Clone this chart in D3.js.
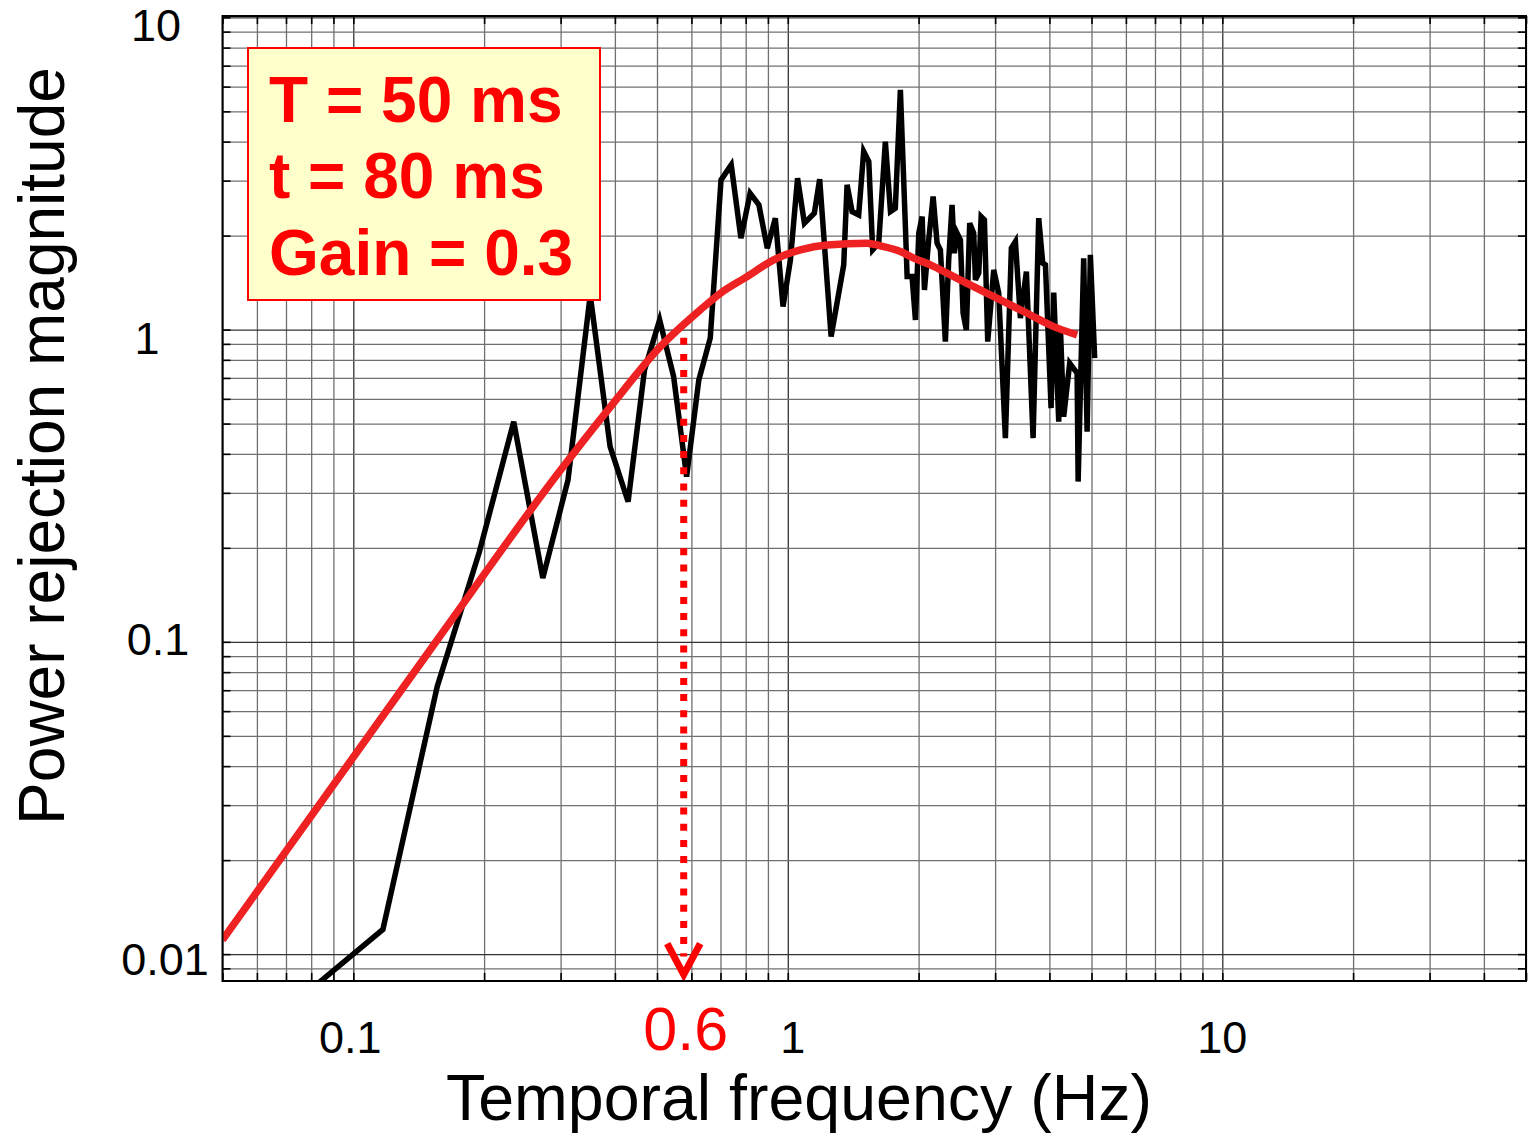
<!DOCTYPE html>
<html>
<head>
<meta charset="utf-8">
<script src="https://cdn.jsdelivr.net/npm/d3@7"></script>
<style>
	body { margin: 0; background: #fff; }
	svg { display: block; font-family: 'Liberation Sans', Arial, Helvetica, sans-serif; }
</style>
</head>
<body>
<script>
const svgWidth = 1528; //Width of SVG.
const svgHeight = 1136; //Height of SVG.

const plotLeft = 222.5; //Plot frame edges.
const plotRight = 1526;
const plotTop = 16;
const plotBottom = 981;

//Model fit (red) : frequency (Hz) and magnitude.
const fitFreq = [0.05, 0.156, 0.300, 0.391, 0.509, 0.629, 0.700, 0.806, 0.928, 1.069, 1.231,
	1.522, 1.634, 1.816, 1.949, 2.129, 2.367, 2.678, 3.085, 3.554, 4.093, 4.633];
const fitMag = [0.0111, 0.1014, 0.355, 0.567, 0.882, 1.157, 1.308, 1.478, 1.672, 1.800, 1.867,
	1.891, 1.854, 1.778, 1.693, 1.612, 1.497, 1.373, 1.245, 1.128, 1.022, 0.962];

//Measured rejection (black).
const measFreq = [0.078, 0.117, 0.156, 0.195, 0.234, 0.273, 0.312, 0.351, 0.390, 0.429,
	0.468, 0.507, 0.546, 0.585, 0.624, 0.663, 0.702, 0.741, 0.780, 0.819,
	0.858, 0.897, 0.936, 0.975, 1.014, 1.053, 1.092, 1.151, 1.184, 1.258,
	1.345, 1.369, 1.406, 1.456, 1.495, 1.536, 1.568, 1.619, 1.677, 1.723,
	1.768, 1.816, 1.865, 1.882, 1.932, 1.967, 2.002, 2.038, 2.063, 2.110,
	2.160, 2.206, 2.245, 2.305, 2.346, 2.388, 2.417, 2.453, 2.496, 2.532,
	2.576, 2.622, 2.678, 2.703, 2.751, 2.786, 2.835, 2.885, 2.978, 3.058,
	3.168, 3.270, 3.341, 3.430, 3.541, 3.669, 3.780, 3.861, 3.917, 4.036,
	4.093, 4.203, 4.241, 4.315, 4.393, 4.454, 4.633, 4.658, 4.797, 4.885,
	4.970, 5.085];
const measMag = [0.0075, 0.0120, 0.0719, 0.194, 0.507, 0.160, 0.330, 1.29, 0.422, 0.281,
	0.743, 1.074, 0.707, 0.338, 0.690, 0.939, 3.016, 3.370, 1.963, 2.734,
	2.508, 1.823, 2.275, 1.185, 1.672, 3.055, 2.192, 2.36, 3.03, 0.950,
	1.612, 2.908, 2.388, 2.330, 3.717, 3.452, 1.800, 1.891, 4.00, 2.388,
	2.448, 5.86, 2.138, 1.478, 1.478, 1.074, 2.036, 2.301, 1.340, 1.938,
	2.667, 1.891, 1.800, 0.915, 1.672, 2.508, 1.757, 2.036, 1.938, 1.128,
	0.998, 2.192, 2.036, 1.443, 1.516, 2.301, 2.246, 0.915, 1.553, 1.308,
	0.449, 1.823, 1.914, 1.088, 1.534, 0.449, 2.275, 1.632, 1.612, 0.560,
	1.314, 0.507, 1.010, 0.526, 0.657, 0.780, 0.725, 0.326, 1.693, 0.471,
	1.735, 0.810];

const xLabelValues = [0.1, 1, 10];
const xLabelTexts = ['0.1', '1', '10'];
const yLabelValues = [0.01, 0.1, 1, 10];
const yLabelTexts = ['0.01', '0.1', '1', '10'];

const infoLines = ['T = 50 ms', 't = 80 ms', 'Gain = 0.3'];

const cutoffFreq = 0.576; //Where the dotted arrow drops.
const cutoffTop = 0.942;
const cutoffBottom = 0.0086;
const cutoffLabel = '0.6';

//Small nudges so the labels sit where the original has them.
const xLabelNudge = [-3, 5, 0];
const yLabelX = [165, 158, 147, 156];
const yLabelDy = [21, 13, 24, 24];

let xScale = d3.scaleLog() //Scale for the x-axis.
	.domain([0.05, 50])
	.range([plotLeft, plotRight]);

let yScale = d3.scaleLog() //Scale for the y-axis.
	.domain([0.0082, 10.1])
	.range([plotBottom, plotTop]);

const plotW = plotRight - plotLeft;
const plotH = plotBottom - plotTop;

let svgContainer = d3.select('body')
	.append('svg')
	.attr('width', svgWidth)
	.attr('height', svgHeight);

svgContainer.append('defs')
	.append('clipPath')
	.attr('id', 'plot-clip')
	.append('rect')
	.attr('x', plotLeft)
	.attr('y', plotTop)
	.attr('width', plotW)
	.attr('height', plotH);

const isMajor = (d) => Math.abs(Math.log10(d) - Math.round(Math.log10(d))) < 1e-6;

//Vertical grid lines.
let xGrid = svgContainer.append('g')
	.attr('transform', 'translate(0,' + plotBottom + ')')
	.call(d3.axisBottom(xScale).tickValues(xScale.ticks()).tickSize(-plotH).tickFormat(''));
xGrid.select('.domain').remove();
xGrid.selectAll('line')
	.attr('stroke', (d) => isMajor(d) ? '#333' : '#707070')
	.attr('stroke-width', 1.3);

//Horizontal grid lines.
let yGrid = svgContainer.append('g')
	.attr('transform', 'translate(' + plotLeft + ',0)')
	.call(d3.axisLeft(yScale).tickValues(yScale.ticks()).tickSize(-plotW).tickFormat(''));
yGrid.select('.domain').remove();
yGrid.selectAll('line')
	.attr('stroke', (d) => isMajor(d) ? '#333' : '#707070')
	.attr('stroke-width', 1.3);

//Inward tick marks on all four sides.
const tickAxes = [
	[d3.axisBottom(xScale).tickValues(xScale.ticks()), 'translate(0,' + plotBottom + ')'],
	[d3.axisTop(xScale).tickValues(xScale.ticks()), 'translate(0,' + plotTop + ')'],
	[d3.axisLeft(yScale).tickValues(yScale.ticks()), 'translate(' + plotLeft + ',0)'],
	[d3.axisRight(yScale).tickValues(yScale.ticks()), 'translate(' + plotRight + ',0)']
];
tickAxes.forEach(([axis, tr]) => {
	let g = svgContainer.append('g')
		.attr('transform', tr)
		.call(axis.tickSize(-8).tickFormat(''));
	g.select('.domain').remove();
	g.selectAll('line').attr('stroke', '#000').attr('stroke-width', 1.6);
});

//Measured curve.
const measLine = d3.line()
	.x((d, i) => xScale(measFreq[i]))
	.y((d, i) => yScale(measMag[i]));

svgContainer.append('path')
	.datum(measMag)
	.attr('clip-path', 'url(#plot-clip)')
	.attr('d', measLine)
	.attr('fill', 'none')
	.attr('stroke', '#000')
	.attr('stroke-width', 5.5);

//Model curve.
const fitLine = d3.line()
	.x((d, i) => xScale(fitFreq[i]))
	.y((d, i) => yScale(fitMag[i]))
	.curve(d3.curveMonotoneX);

svgContainer.append('path')
	.datum(fitMag)
	.attr('clip-path', 'url(#plot-clip)')
	.attr('d', fitLine)
	.attr('fill', 'none')
	.attr('stroke', '#ee2222')
	.attr('stroke-width', 7.5)
	.attr('stroke-linecap', 'butt');

//Dotted drop line and arrow head.
const cx = xScale(cutoffFreq);
svgContainer.append('line')
	.attr('x1', cx)
	.attr('x2', cx)
	.attr('y1', yScale(cutoffTop))
	.attr('y2', yScale(cutoffBottom) - 18)
	.attr('stroke', '#ff0000')
	.attr('stroke-width', 7)
	.attr('stroke-dasharray', '7,9.2');

const tipY = yScale(cutoffBottom);
svgContainer.append('path')
	.attr('d', 'M' + (cx - 16.5) + ',' + (tipY - 31) + 'L' + cx + ',' + tipY + 'L' + (cx + 16.5) + ',' + (tipY - 31))
	.attr('fill', 'none')
	.attr('stroke', '#ff0000')
	.attr('stroke-width', 7);

//Plot frame.
svgContainer.append('rect')
	.attr('x', plotLeft)
	.attr('y', plotTop)
	.attr('width', plotW)
	.attr('height', plotH)
	.attr('fill', 'none')
	.attr('stroke', '#000')
	.attr('stroke-width', 2);

//Tick labels.
svgContainer.selectAll('.x-label')
	.data(xLabelValues)
	.enter()
	.append('text')
	.attr('class', 'x-label')
	.attr('x', (d, i) => xScale(d) + xLabelNudge[i])
	.attr('y', 1053)
	.attr('text-anchor', 'middle')
	.style('font-size', '45px')
	.text((d, i) => xLabelTexts[i]);

svgContainer.selectAll('.y-label')
	.data(yLabelValues)
	.enter()
	.append('text')
	.attr('class', 'y-label')
	.attr('x', (d, i) => yLabelX[i])
	.attr('y', (d, i) => yScale(d) + yLabelDy[i])
	.attr('text-anchor', 'middle')
	.style('font-size', '45px')
	.text((d, i) => yLabelTexts[i]);

svgContainer.append('text') //Cutoff label.
	.attr('x', cx + 2)
	.attr('y', 1050)
	.attr('text-anchor', 'middle')
	.attr('fill', '#ff0000')
	.style('font-size', '61px')
	.text(cutoffLabel);

//Axis titles.
svgContainer.append('text')
	.attr('x', 799)
	.attr('y', 1120)
	.attr('text-anchor', 'middle')
	.style('font-size', '64.5px')
	.text('Temporal frequency (Hz)');

svgContainer.append('text')
	.attr('transform', 'translate(64,446) rotate(-90)')
	.attr('text-anchor', 'middle')
	.style('font-size', '64px')
	.text('Power rejection magnitude');

//Parameter box.
svgContainer.append('rect')
	.attr('x', 248)
	.attr('y', 48)
	.attr('width', 352)
	.attr('height', 252)
	.attr('fill', '#ffffcc')
	.attr('stroke', '#ff0000')
	.attr('stroke-width', 2);

svgContainer.selectAll('.info')
	.data(infoLines)
	.enter()
	.append('text')
	.attr('class', 'info')
	.attr('x', 269)
	.attr('y', (d, i) => 121.5 + i * 76.7)
	.attr('fill', '#ff0000')
	.style('font-size', '64px')
	.style('font-weight', 'bold')
	.text((d) => d);
</script>
</body>
</html>
